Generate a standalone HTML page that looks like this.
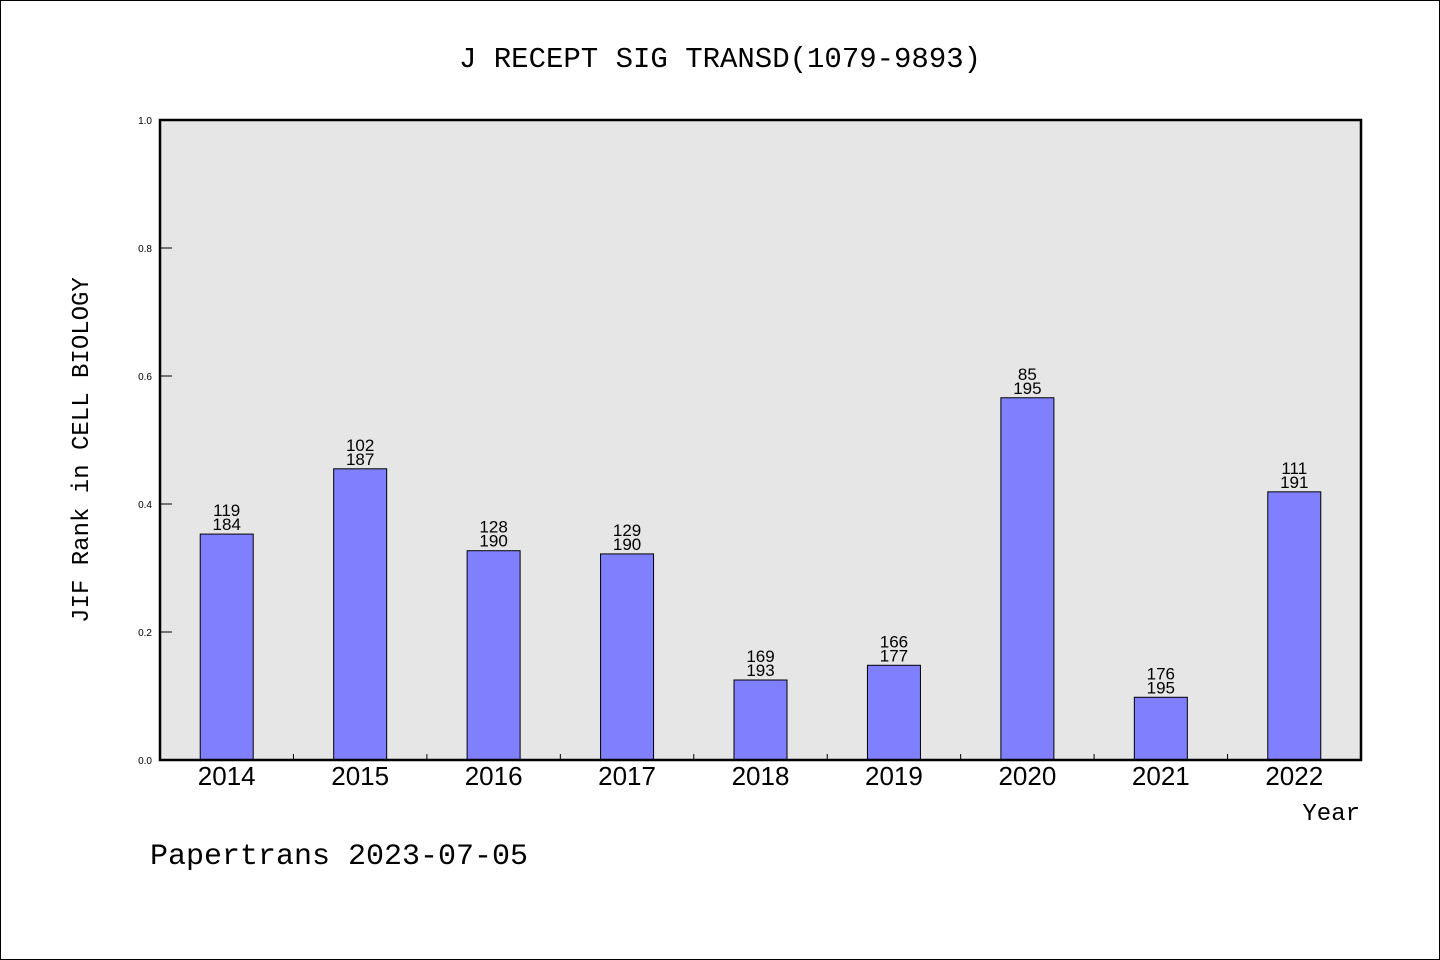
<!DOCTYPE html>
<html><head><meta charset="utf-8"><style>
html,body{margin:0;padding:0;background:#fff}
svg{display:block}
text{font-family:"Liberation Mono","WenQuanYi Zen Hei",monospace;fill:#000}
.s{font-family:"Liberation Sans","WenQuanYi Zen Hei",sans-serif}
</style></head><body>
<svg id="chart" width="1440" height="960" xmlns="http://www.w3.org/2000/svg">
<rect x="0.5" y="0.5" width="1439" height="959" fill="#fff" stroke="#000"/>
<text x="720" y="67" font-size="29" text-anchor="middle">J RECEPT SIG TRANSD(1079-9893)</text>
<rect x="160" y="120" width="1201" height="640" fill="#e6e6e6"/>
<g id="yaxis"></g>
<g id="bars"></g>
<rect x="160" y="120" width="1201" height="640" fill="none" stroke="#000" stroke-width="2.5"/>
<text transform="translate(88,450) rotate(-90)" font-size="24" text-anchor="middle">JIF Rank in CELL BIOLOGY</text>
<text x="1360" y="820" font-size="24" text-anchor="end">Year</text>
<text x="150" y="864" font-size="30">Papertrans 2023-07-05</text>
</svg>
<script>
const years=["2014","2015","2016","2017","2018","2019","2020","2021","2022"];
const values=[0.353,0.455,0.327,0.322,0.125,0.148,0.566,0.098,0.419];
const ranks=[119,102,128,129,169,166,85,176,111];
const totals=[184,187,190,190,193,177,195,195,191];
const yTicks=[0,0.2,0.4,0.6,0.8,1.0];
const NS="http://www.w3.org/2000/svg";
const X0=160,X1=1361,Y0=760,Y1=120;
const band=(X1-X0)/years.length;
const yS=v=>Y0-(Y0-Y1)*v;
const xC=i=>X0+band*(i+0.5);
function mk(t,a,p){const e=document.createElementNS(NS,t);for(const k in a)e.setAttribute(k,a[k]);(p||document.getElementById('chart')).appendChild(e);return e;}
const ya=document.getElementById('yaxis'),bg=document.getElementById('bars');
yTicks.forEach(v=>{
 const l=mk('line',{x1:X0,x2:X0+12,y1:yS(v),y2:yS(v),stroke:'#000','stroke-width':1},ya);
 
 
 const t=mk('text',{x:X0-8,y:yS(v)+4,'font-size':10,'text-anchor':'end','class':'s'},ya);
 t.textContent=v.toFixed(1);
 
 
});
years.forEach((y,i)=>{
 if(i>0){const tk=mk('line',{x1:X0+band*i,x2:X0+band*i,y1:Y0,y2:Y0-6,stroke:'#000'},bg);
 
 }
 const v=values[i];
 const w=53,top=yS(v);
 const r=mk('rect',{x:xC(i)-w/2,y:top,width:w,height:Y0-top,fill:'#8080ff',stroke:'#000','stroke-width':1},bg);
 
 
 const t1=mk('text',{x:xC(i),y:top-18,'font-size':17,'text-anchor':'middle','class':'s'},bg);
 t1.textContent=ranks[i];
 
 
 const t2=mk('text',{x:xC(i),y:top-4,'font-size':17,'text-anchor':'middle','class':'s'},bg);
 t2.textContent=totals[i];
 
 
 const xl=mk('text',{x:xC(i),y:785,'font-size':26,'text-anchor':'middle','class':'s'},bg);
 xl.textContent=y;
 
 
});
</script>
</body></html>
